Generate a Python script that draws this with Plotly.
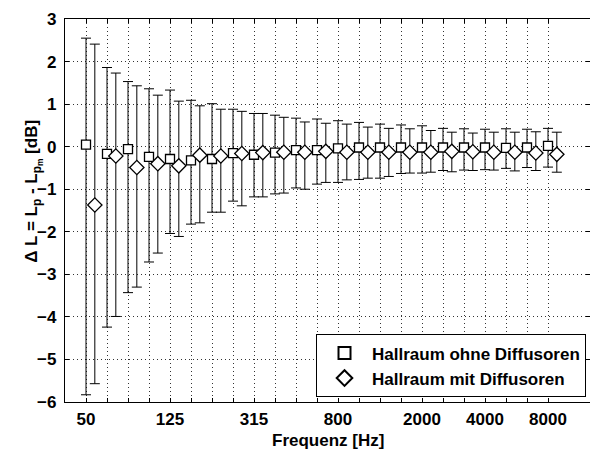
import plotly.graph_objects as go

# Third-octave band centre frequencies [Hz]
freqs = [50, 63, 80, 100, 125, 160, 200, 250, 315, 400, 500, 630, 800,
         1000, 1250, 1600, 2000, 2500, 3150, 4000, 5000, 6300, 8000]
labeled_freqs = [50, 125, 315, 800, 2000, 4000, 8000]

# Hallraum ohne Diffusoren: mean, upper and lower limit [dB]
ohne_mean = [0.05, -0.17, -0.06, -0.24, -0.29, -0.32, -0.29, -0.15, -0.19, -0.14, -0.08, -0.08,
             -0.04, -0.02, -0.02, -0.02, -0.02, -0.02, -0.02, -0.02, -0.03, -0.02, 0.02]
ohne_upper = [2.55, 1.86, 1.53, 1.36, 1.33, 1.09, 1.01, 0.88, 0.78, 0.74, 0.67, 0.65,
              0.61, 0.57, 0.53, 0.51, 0.49, 0.43, 0.42, 0.41, 0.42, 0.41, 0.43]
ohne_lower = [-5.83, -4.24, -3.43, -2.71, -2.04, -1.82, -1.54, -1.28, -1.18, -1.11, -0.97, -0.88,
              -0.84, -0.77, -0.74, -0.63, -0.62, -0.56, -0.55, -0.54, -0.51, -0.49, -0.48]

# Hallraum mit Diffusoren: mean, upper and lower limit [dB]
mit_mean = [-1.37, -0.22, -0.49, -0.40, -0.45, -0.20, -0.22, -0.16, -0.14, -0.13, -0.13, -0.11,
            -0.13, -0.13, -0.13, -0.13, -0.13, -0.11, -0.12, -0.13, -0.13, -0.15, -0.18]
mit_upper = [2.41, 1.73, 1.43, 1.21, 1.07, 0.96, 0.88, 0.83, 0.78, 0.69, 0.58, 0.55,
             0.53, 0.46, 0.43, 0.42, 0.38, 0.34, 0.32, 0.34, 0.34, 0.35, 0.34]
mit_lower = [-5.57, -3.99, -3.30, -2.50, -2.11, -1.79, -1.54, -1.39, -1.18, -1.09, -1.00, -0.84,
             -0.78, -0.74, -0.70, -0.62, -0.60, -0.59, -0.56, -0.55, -0.57, -0.56, -0.60]

FONT = "Liberation Sans, Arial, sans-serif"
idx = list(range(len(freqs)))
shift = 0.42

def err(mean, upper, lower):
    return dict(type="data", symmetric=False,
                array=[u - m for u, m in zip(upper, mean)],
                arrayminus=[m - l for m, l in zip(mean, lower)],
                color="black", thickness=1, width=5)

fig = go.Figure()
fig.add_trace(go.Scatter(
    x=idx, y=ohne_mean, mode="markers", name="Hallraum ohne Diffusoren",
    marker=dict(symbol="square", size=9, color="white", line=dict(color="black", width=1.3)),
    error_y=err(ohne_mean, ohne_upper, ohne_lower)))
fig.add_trace(go.Scatter(
    x=[i + shift for i in idx], y=mit_mean, mode="markers", name="Hallraum mit Diffusoren",
    marker=dict(symbol="diamond", size=11, color="white", line=dict(color="black", width=1.3)),
    error_y=err(mit_mean, mit_upper, mit_lower)))

GRID = dict(showgrid=True, gridcolor="#333333", gridwidth=1, griddash="1px,3px")
axis_common = dict(
    showline=True, linecolor="black", linewidth=1.2, mirror="ticks",
    ticks="inside", ticklen=4, tickcolor="black", tickwidth=1,
    zeroline=False,
    tickfont=dict(family=FONT, size=17, color="black", weight="bold"),
    **GRID,
)

label_idx = [i for i, f in enumerate(freqs) if f in labeled_freqs]
fig.update_xaxes(
    range=[-1, 24], tickmode="array", tickvals=label_idx,
    ticktext=[str(freqs[i]) for i in label_idx],
    ticklabelstandoff=1,
    minor=dict(tickmode="array", tickvals=idx, ticks="inside", ticklen=4,
               tickcolor="black", tickwidth=1, **GRID),
    **axis_common)
fig.update_yaxes(
    range=[-6, 3], tickmode="linear", tick0=0, dtick=1,
    ticklabelstandoff=4,
    **axis_common)

fig.add_annotation(
    text="Frequenz [Hz]", xref="paper", yref="paper", x=0.5, y=-0.1,
    xanchor="center", yanchor="middle", showarrow=False,
    font=dict(family=FONT, size=17, color="black", weight="bold"))
fig.add_annotation(
    text="\u0394 L = L<sub>p</sub> - L<sub>p<sub>m</sub></sub> [dB]",
    xref="paper", yref="paper", x=-0.06, y=0.55,
    xanchor="center", yanchor="middle", textangle=-90, showarrow=False,
    font=dict(family=FONT, size=17, color="black", weight="bold"))

fig.update_layout(
    width=590, height=450,
    margin=dict(l=65, r=0, t=19, b=48),
    paper_bgcolor="white", plot_bgcolor="white",
    showlegend=True,
    legend=dict(x=0.9924, y=0.012, xanchor="right", yanchor="bottom",
                bgcolor="white", bordercolor="black", borderwidth=1,
                font=dict(family=FONT, size=17, color="black", weight="bold"),
                tracegroupgap=0, itemsizing="constant", itemwidth=45),
)

fig.write_html("out.html")
